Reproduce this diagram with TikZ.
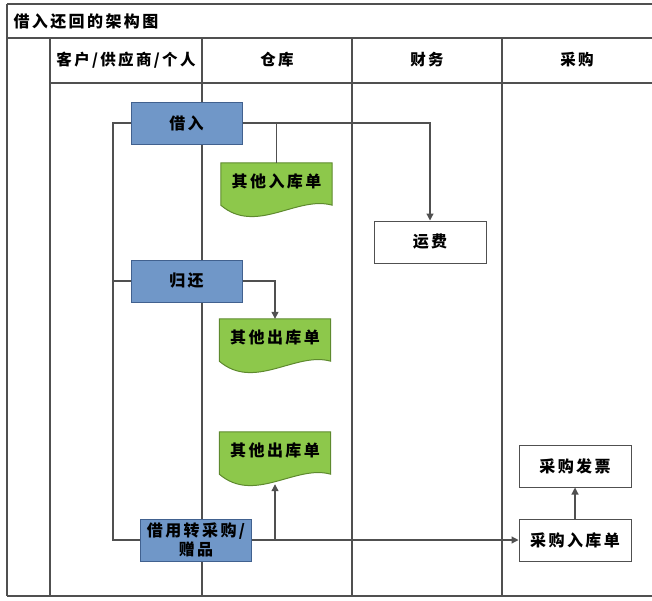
\documentclass[tikz,border=0pt]{standalone}
\usepackage{fontspec}
\setmainfont{Noto Sans CJK SC}[LetterSpace=15]
\usetikzlibrary{arrows.meta,backgrounds}
\definecolor{laneGray}{HTML}{505050}
\definecolor{boxBlue}{HTML}{7097C8}
\definecolor{boxBlueLine}{HTML}{41618F}
\definecolor{docGreen}{HTML}{8DC84B}
\definecolor{docGreenLine}{HTML}{5E8A2E}
\begin{document}
\begin{tikzpicture}[
  x=1pt, y=-1pt,
  font=\fontsize{15.5}{18}\selectfont\bfseries,
  lane/.style={draw=laneGray, line width=1.2pt},
  box/.style={draw=boxBlueLine, fill=boxBlue, line width=1pt, minimum width=111pt, minimum height=42pt, font=\fontsize{16}{19}\selectfont\bfseries, align=center},
  plain/.style={draw=laneGray, fill=white, line width=1pt, minimum width=112pt, minimum height=42pt, font=\fontsize{16}{19}\selectfont\bfseries},
  doc/.style={minimum width=111pt, minimum height=52pt, text depth=16pt, font=\fontsize{16}{19}\selectfont\bfseries},
  docshape/.style={draw=docGreenLine, fill=docGreen, line width=1pt},
  link/.style={draw=laneGray, line width=1.2pt},
  flow/.style={link, -{Triangle[length=7pt,width=7pt]}}]

\useasboundingbox (0,0) rectangle (652,600);

% Frame and swim lanes
\draw[lane] (7,4) -- (652,4);
\draw[lane] (7,38) -- (652,38);
\draw[lane] (50,83) -- (652,83);
\draw[lane] (7,596) -- (652,596);
\draw[lane] (7,4) -- (7,596);
\foreach \x in {50,202,352,502}
  \draw[lane] (\x,38) -- (\x,596);

\node[anchor=west, font=\fontsize{16}{19}\selectfont\bfseries] (title) at (10,21) {借入还回的架构图};
\node (laneCustomer) at (126,60) {客户/供应商/个人};
\node (laneStore) at (277,60) {仓库};
\node (laneFinance) at (427,60) {财务};
\node (lanePurchase) at (577,60) {采购};

% Position the nodes
\node[box] (borrowIn) at (186.5,123) {借入};
\node[box] (giveBack) at (186.5,281) {归还};
\node[box] (borrowConvert) at (196,540) {借用转采购/\\赠品};
\node[doc] (otherInDoc) at (276.5,189) {其他入库单};
\node[doc] (otherOutDoc) at (275,345) {其他出库单};
\node[doc] (otherOutDocB) at (275,458) {其他出库单};
\node[plain] (freight) at (430,242) {运费};
\node[plain] (purchaseInvoice) at (575,466) {采购发票};
\node[plain] (purchaseIn) at (575,540) {采购入库单};
\coordinate (loopLine) at (113,300);

% Document shapes behind their texts
\begin{scope}[on background layer]
\foreach \d in {otherInDoc,otherOutDoc,otherOutDocB}
  \path[docshape] (\d.north west) -- (\d.north east) -- ([yshift=10pt]\d.south east)
    .. controls +(-35,-10) and +(35,30) .. ([yshift=10pt]\d.south west) -- cycle;
\end{scope}

% Draw the connectors
\draw[link] (borrowIn.east) -| (otherInDoc.north);
\draw[flow] (borrowIn.east) -| (freight.north);
\draw[flow] (giveBack.east) -| (otherOutDoc.north);
\draw[flow] (borrowConvert.east) -| (otherOutDocB.south);
\draw[flow] (borrowConvert.east) -- (purchaseIn.west);
\draw[flow] (purchaseIn) -- (purchaseInvoice);
\draw[link] (borrowIn.west) -| (loopLine) |- (borrowConvert.west);
\draw[link] (giveBack.west) -- (giveBack.west -| loopLine);
\end{tikzpicture}
\end{document}
